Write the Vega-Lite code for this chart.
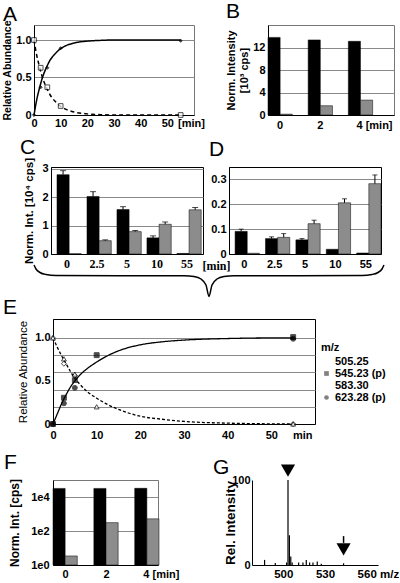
{
  "$schema": "https://vega.github.io/schema/vega-lite/v6.json",
  "padding": {"left": 2, "top": 0, "right": 0, "bottom": 0},
  "background": "white",
  "config": {
    "font": "Liberation Sans",
    "view": {"stroke": null},
    "axis": {"domainColor": "black", "domainWidth": 1, "labelColor": "black", "labelFont": "Liberation Sans", "labelFontWeight": "bold", "labelFontSize": 11, "titleColor": "black", "titleFont": "Liberation Sans", "titleFontWeight": "bold", "titleFontSize": 11, "ticks": false, "gridColor": "#8a8a8a", "gridWidth": 1, "labelOverlap": false, "labelFlush": false, "labelBound": false, "labelPadding": 3, "titlePadding": 3},
    "axisY": {"labelOverlap": false, "labelFlush": false},
    "title": {"anchor": "start", "frame": "group", "fontSize": 21, "fontWeight": "normal", "font": "Liberation Sans", "color": "black"},
    "legend": {"labelFont": "Liberation Sans", "titleFont": "Liberation Sans", "labelColor": "black", "titleColor": "black"}
  },
  "resolve": {
    "scale": {"fill": "independent", "shape": "independent", "strokeDash": "independent", "size": "independent", "color": "independent"},
    "legend": {"fill": "independent", "shape": "independent", "strokeDash": "independent", "size": "independent", "color": "independent"}
  },
  "datasets": {
    "curveA": [
      {"t": 0, "v": 0, "k": "prod"}, {"t": 1, "v": 0.2, "k": "prod"}, {"t": 2, "v": 0.35, "k": "prod"}, {"t": 3, "v": 0.48, "k": "prod"}, {"t": 4, "v": 0.58, "k": "prod"}, {"t": 5, "v": 0.66, "k": "prod"}, {"t": 6, "v": 0.73, "k": "prod"}, {"t": 7, "v": 0.78, "k": "prod"}, {"t": 8, "v": 0.82, "k": "prod"}, {"t": 10, "v": 0.885, "k": "prod"}, {"t": 12, "v": 0.925, "k": "prod"}, {"t": 15, "v": 0.96, "k": "prod"}, {"t": 20, "v": 0.985, "k": "prod"}, {"t": 25, "v": 0.995, "k": "prod"}, {"t": 30, "v": 1.0, "k": "prod"}, {"t": 40, "v": 1.0, "k": "prod"}, {"t": 55, "v": 1.0, "k": "prod"},
      {"t": 0, "v": 1, "k": "sub"}, {"t": 1, "v": 0.8, "k": "sub"}, {"t": 2, "v": 0.65, "k": "sub"}, {"t": 3, "v": 0.52, "k": "sub"}, {"t": 4, "v": 0.42, "k": "sub"}, {"t": 5, "v": 0.34, "k": "sub"}, {"t": 6, "v": 0.27, "k": "sub"}, {"t": 7, "v": 0.22, "k": "sub"}, {"t": 8, "v": 0.18, "k": "sub"}, {"t": 10, "v": 0.115, "k": "sub"}, {"t": 12, "v": 0.075, "k": "sub"}, {"t": 15, "v": 0.04, "k": "sub"}, {"t": 20, "v": 0.015, "k": "sub"}, {"t": 25, "v": 0.005, "k": "sub"}, {"t": 30, "v": 0, "k": "sub"}, {"t": 40, "v": 0, "k": "sub"}, {"t": 55, "v": 0, "k": "sub"}
    ],
    "ptsA": [
      {"t": 0, "v": 0, "k": "prod"}, {"t": 2.5, "v": 0.37, "k": "prod"}, {"t": 5, "v": 0.63, "k": "prod"}, {"t": 10, "v": 0.89, "k": "prod"}, {"t": 55, "v": 0.99, "k": "prod"},
      {"t": 0, "v": 1.0, "k": "sub"}, {"t": 2.5, "v": 0.63, "k": "sub"}, {"t": 5, "v": 0.37, "k": "sub"}, {"t": 10, "v": 0.12, "k": "sub"}, {"t": 55, "v": 0.0, "k": "sub"}
    ],
    "barB": [
      {"m": 0, "sB": "p", "v": 13.8}, {"m": 0, "sB": "q", "v": 0.15},
      {"m": 2, "sB": "p", "v": 13.35}, {"m": 2, "sB": "q", "v": 1.65},
      {"m": 4, "sB": "p", "v": 13.1}, {"m": 4, "sB": "q", "v": 2.65}
    ],
    "barC": [
      {"m": "0", "sC": "p", "v": 2.8, "cap": 2.94}, {"m": "0", "sC": "q", "v": 0.01, "cap": null},
      {"m": "2.5", "sC": "p", "v": 2.03, "cap": 2.2}, {"m": "2.5", "sC": "q", "v": 0.47, "cap": 0.5},
      {"m": "5", "sC": "p", "v": 1.57, "cap": 1.67}, {"m": "5", "sC": "q", "v": 0.79, "cap": 0.83},
      {"m": "10", "sC": "p", "v": 0.57, "cap": 0.64}, {"m": "10", "sC": "q", "v": 1.05, "cap": 1.13},
      {"m": "55", "sC": "p", "v": 0.02, "cap": null}, {"m": "55", "sC": "q", "v": 1.56, "cap": 1.64}
    ],
    "barD": [
      {"m": "0", "sD": "p", "v": 0.091, "cap": 0.1}, {"m": "0", "sD": "q", "v": 0.003, "cap": null},
      {"m": "2.5", "sD": "p", "v": 0.062, "cap": 0.069}, {"m": "2.5", "sD": "q", "v": 0.067, "cap": 0.082},
      {"m": "5", "sD": "p", "v": 0.057, "cap": 0.062}, {"m": "5", "sD": "q", "v": 0.122, "cap": 0.136},
      {"m": "10", "sD": "p", "v": 0.019, "cap": null}, {"m": "10", "sD": "q", "v": 0.206, "cap": 0.222},
      {"m": "55", "sD": "p", "v": 0.004, "cap": null}, {"m": "55", "sD": "q", "v": 0.283, "cap": 0.318}
    ],
    "brace": [
      {"p": 0, "d": 0}, {"p": 2, "d": 4}, {"p": 6, "d": 7.5}, {"p": 12, "d": 9.5}, {"p": 22, "d": 10.5}, {"p": 150, "d": 10.8}, {"p": 160, "d": 11.6}, {"p": 167, "d": 14}, {"p": 172, "d": 20}, {"p": 175, "d": 31.5},
      {"p": 178, "d": 20}, {"p": 183, "d": 14}, {"p": 190, "d": 11.6}, {"p": 200, "d": 10.8}, {"p": 328, "d": 10.5}, {"p": 338, "d": 9.5}, {"p": 344, "d": 7.5}, {"p": 348, "d": 4}, {"p": 350, "d": 0}
    ],
    "curveE": [
      {"t": 0, "v": 0, "k": "rise"}, {"t": 1, "v": 0.12, "k": "rise"}, {"t": 2, "v": 0.24, "k": "rise"}, {"t": 3, "v": 0.34, "k": "rise"}, {"t": 4, "v": 0.43, "k": "rise"}, {"t": 5, "v": 0.5, "k": "rise"}, {"t": 6, "v": 0.56, "k": "rise"}, {"t": 8, "v": 0.65, "k": "rise"}, {"t": 10, "v": 0.72, "k": "rise"}, {"t": 12, "v": 0.78, "k": "rise"}, {"t": 15, "v": 0.85, "k": "rise"}, {"t": 20, "v": 0.92, "k": "rise"}, {"t": 25, "v": 0.955, "k": "rise"}, {"t": 30, "v": 0.975, "k": "rise"}, {"t": 40, "v": 0.993, "k": "rise"}, {"t": 50, "v": 1.0, "k": "rise"}, {"t": 55, "v": 1.0, "k": "rise"},
      {"t": 0, "v": 1, "k": "fall"}, {"t": 1, "v": 0.89, "k": "fall"}, {"t": 2, "v": 0.79, "k": "fall"}, {"t": 3, "v": 0.7, "k": "fall"}, {"t": 4, "v": 0.61, "k": "fall"}, {"t": 5, "v": 0.53, "k": "fall"}, {"t": 6, "v": 0.47, "k": "fall"}, {"t": 8, "v": 0.37, "k": "fall"}, {"t": 10, "v": 0.3, "k": "fall"}, {"t": 12, "v": 0.24, "k": "fall"}, {"t": 15, "v": 0.17, "k": "fall"}, {"t": 20, "v": 0.09, "k": "fall"}, {"t": 25, "v": 0.055, "k": "fall"}, {"t": 30, "v": 0.03, "k": "fall"}, {"t": 40, "v": 0.01, "k": "fall"}, {"t": 55, "v": 0.0, "k": "fall"}
    ],
    "ptsE": [
      {"t": 0, "v": 1.0, "mz": "505.25"}, {"t": 2.5, "v": 0.7, "mz": "505.25"}, {"t": 5, "v": 0.56, "mz": "505.25"}, {"t": 55, "v": 0.0, "mz": "505.25"},
      {"t": 0, "v": 1.0, "mz": "583.30"}, {"t": 2.5, "v": 0.757, "mz": "583.30"}, {"t": 5, "v": 0.58, "mz": "583.30"}, {"t": 10, "v": 0.2, "mz": "583.30"}, {"t": 55, "v": 0.0, "mz": "583.30"},
      {"t": 0, "v": 0.0, "mz": "623.28 (p)"}, {"t": 2.5, "v": 0.24, "mz": "623.28 (p)"}, {"t": 5, "v": 0.42, "mz": "623.28 (p)"}, {"t": 55, "v": 0.99, "mz": "623.28 (p)"},
      {"t": 0, "v": 0.0, "mz": "545.23 (p)"}, {"t": 2.5, "v": 0.305, "mz": "545.23 (p)"}, {"t": 5, "v": 0.51, "mz": "545.23 (p)"}, {"t": 10, "v": 0.8, "mz": "545.23 (p)"}, {"t": 55, "v": 1.01, "mz": "545.23 (p)"}
    ],
    "barF": [
      {"m": 0, "sF": "p", "v": 32000}, {"m": 0, "sF": "q", "v": 3.4},
      {"m": 2, "sF": "p", "v": 32000}, {"m": 2, "sF": "q", "v": 310},
      {"m": 4, "sF": "p", "v": 32500}, {"m": 4, "sF": "q", "v": 520}
    ],
    "specG": [
      {"mz": 488.4, "i": 6}, {"mz": 496.1, "i": 2.5}, {"mz": 504.25, "i": 3}, {"mz": 505.25, "i": 100}, {"mz": 506.25, "i": 35}, {"mz": 507.25, "i": 10}, {"mz": 508.25, "i": 3},
      {"mz": 512.9, "i": 3}, {"mz": 516, "i": 3}, {"mz": 518.4, "i": 6}, {"mz": 520.8, "i": 3}, {"mz": 523.2, "i": 3}, {"mz": 526.3, "i": 4}, {"mz": 529.2, "i": 1.5}, {"mz": 545.23, "i": 2}
    ],
    "markG": [
      {"mz": 505.25, "pos": 111}, {"mz": 545.23, "pos": 18.5}
    ],
    "stemG": [
      {"mz": 545.23, "a": 26, "b": 34}
    ]
  },
  "vconcat": [
    {
      "hconcat": [
        {
          "width": 160, "height": 90,
          "title": {"text": "A", "dx": -31, "offset": -5},
          "view": {"stroke": "#777"},
          "encoding": {
            "x": {"field": "t", "type": "quantitative", "scale": {"domain": [0, 60], "nice": false},
              "axis": {"values": [0, 10, 20, 30, 40, 50, 60], "labelExpr": "datum.value == 60 ? '[min]' : datum.label", "labelOffset": {"condition": {"test": "datum.value == 60", "value": -3}, "value": 0}, "labelFlush": false, "labelOverlap": false, "title": null, "grid": false, "labelPadding": 2}},
            "y": {"field": "v", "type": "quantitative", "scale": {"domain": [0, 1.2], "nice": false},
              "axis": {"values": [0, 0.5, 1], "labelExpr": "datum.value == 0 ? '0' : format(datum.value, '.1f')", "labelOverlap": false, "labelFlush": false, "grid": true, "title": "Relative Abundance", "titleFontSize": 10.5}}
          },
          "layer": [
            {
              "data": {"name": "curveA"},
              "mark": {"type": "line", "color": "black", "strokeWidth": 1.5, "interpolate": "monotone"},
              "encoding": {
                "strokeDash": {"field": "k", "type": "nominal", "scale": {"domain": ["prod", "sub"], "range": [[1, 0], [4, 3]]}, "legend": null}
              }
            },
            {
              "data": {"name": "ptsA"},
              "mark": {"type": "point", "filled": true, "stroke": "black", "strokeWidth": 1},
              "encoding": {
                "shape": {"field": "k", "type": "nominal", "scale": {"domain": ["prod", "sub"], "range": ["diamond", "square"]}, "legend": null},
                "fill": {"field": "k", "type": "nominal", "scale": {"domain": ["prod", "sub"], "range": ["black", "white"]}, "legend": null},
                "size": {"field": "k", "type": "nominal", "scale": {"domain": ["prod", "sub"], "range": [10, 22]}, "legend": null}
              }
            }
          ]
        },
        {
          "width": 126, "height": 90,
          "title": {"text": "B", "dx": -42, "offset": 3},
          "view": {"stroke": "#777"},
          "data": {"name": "barB"},
          "mark": {"type": "bar", "stroke": "black", "strokeWidth": 0.5},
          "encoding": {
            "x": {"field": "m", "type": "ordinal", "scale": {"domain": [0, 2, 4], "paddingInner": 0.395, "paddingOuter": 0.266, "align": 0},
              "axis": {"title": null, "labelAngle": 0, "labelOverlap": false, "labelExpr": "datum.value == 4 ? '4 [min]' : datum.label", "labelAlign": {"condition": {"test": "datum.value == 4", "value": "left"}, "value": "center"}, "labelOffset": {"condition": {"test": "datum.value == 4", "value": -4}, "value": 0}, "labelPadding": 4}},
            "xOffset": {"field": "sB", "type": "nominal", "scale": {"domain": ["p", "q"]}},
            "y": {"field": "v", "type": "quantitative", "scale": {"domain": [0, 16], "nice": false},
              "axis": {"values": [0, 4, 8, 12], "labelOverlap": false, "grid": true, "title": ["Norm. Intensity", "[10³ cps]"], "titleFontSize": 11}},
            "color": {"field": "sB", "type": "nominal", "scale": {"domain": ["p", "q"], "range": ["#000000", "#8c8c8c"]}, "legend": null}
          }
        }
      ],
      "spacing": 74, "bounds": "flush"
    },
    {"width": 1, "height": 142, "data": {"values": []}, "mark": "point"},
    {
      "hconcat": [
        {"width": 17, "height": 1, "data": {"values": []}, "mark": "point"},
        {
          "hconcat": [
            {
              "width": 152, "height": 87,
              "title": {"text": "C", "frame": "bounds", "dx": -4, "offset": -1},
              "view": {"stroke": "black"},
              "data": {"name": "barC"},
              "encoding": {
                "x": {"field": "m", "type": "ordinal", "scale": {"domain": ["0", "2.5", "5", "10", "55"], "paddingInner": 0.33, "paddingOuter": 0.2},
                  "axis": {"title": "[min]", "titleX": 165, "titleY": 15, "titleAngle": 0, "titleAlign": "center", "titleBaseline": "alphabetic", "titleFont": "Liberation Serif", "titleFontSize": 12, "labelFont": "Liberation Serif", "labelFontSize": 12, "labelAngle": 0, "labelOverlap": false, "labelPadding": 4}},
                "xOffset": {"field": "sC", "type": "nominal", "scale": {"domain": ["p", "q"]}}
              },
              "layer": [
                {
                  "mark": {"type": "bar", "stroke": "black", "strokeWidth": 0.5},
                  "encoding": {
                    "y": {"field": "v", "type": "quantitative", "scale": {"domain": [0, 3.07], "nice": false},
                      "axis": {"values": [0, 1, 2, 3], "labelOverlap": false, "labelFlush": false, "grid": true, "title": "Norm. Int. [10⁴ cps]", "titleFontSize": 11.5, "titlePadding": 7}},
                    "color": {"field": "sC", "type": "nominal", "scale": {"domain": ["p", "q"], "range": ["#000000", "#8c8c8c"]}, "legend": null}
                  }
                },
                {
                  "transform": [{"filter": "isValid(datum.cap)"}],
                  "mark": {"type": "rule", "color": "black", "strokeWidth": 1},
                  "encoding": {
                    "y": {"field": "v", "type": "quantitative", "axis": {"values": [0, 1, 2, 3], "labelOverlap": false, "labelFlush": false, "grid": true, "title": "Norm. Int. [10⁴ cps]", "titleFontSize": 11.5, "titlePadding": 7}},
                    "y2": {"field": "cap"}
                  }
                },
                {
                  "transform": [{"filter": "isValid(datum.cap)"}],
                  "mark": {"type": "tick", "color": "black", "thickness": 1, "size": 6, "orient": "horizontal"},
                  "encoding": {
                    "y": {"field": "cap", "type": "quantitative", "axis": {"values": [0, 1, 2, 3], "labelOverlap": false, "labelFlush": false, "grid": true, "title": "Norm. Int. [10⁴ cps]", "titleFontSize": 11.5, "titlePadding": 7}}
                  }
                }
              ]
            },
            {
              "width": 152, "height": 87,
              "title": {"text": "D", "dx": -20, "offset": 7},
              "view": {"stroke": "black"},
              "data": {"name": "barD"},
              "encoding": {
                "x": {"field": "m", "type": "ordinal", "scale": {"domain": ["0", "2.5", "5", "10", "55"], "paddingInner": 0.4, "paddingOuter": 0.2},
                  "axis": {"title": null, "labelAngle": 0, "labelOverlap": false, "labelPadding": 4}},
                "xOffset": {"field": "sD", "type": "nominal", "scale": {"domain": ["p", "q"]}}
              },
              "layer": [
                {
                  "mark": {"type": "bar", "stroke": "black", "strokeWidth": 0.5},
                  "encoding": {
                    "y": {"field": "v", "type": "quantitative", "scale": {"domain": [0, 0.35], "nice": false},
                      "axis": {"values": [0, 0.1, 0.2, 0.3], "labelExpr": "datum.value == 0 ? '0' : format(datum.value, '.1f')", "labelOverlap": false, "labelFlush": false, "grid": true, "title": null}},
                    "color": {"field": "sD", "type": "nominal", "scale": {"domain": ["p", "q"], "range": ["#000000", "#8c8c8c"]}, "legend": null}
                  }
                },
                {
                  "transform": [{"filter": "isValid(datum.cap)"}],
                  "mark": {"type": "rule", "color": "black", "strokeWidth": 1},
                  "encoding": {
                    "y": {"field": "v", "type": "quantitative", "axis": {"values": [0, 0.1, 0.2, 0.3], "labelExpr": "datum.value == 0 ? '0' : format(datum.value, '.1f')", "labelOverlap": false, "labelFlush": false, "grid": true, "title": null}},
                    "y2": {"field": "cap"}
                  }
                },
                {
                  "transform": [{"filter": "isValid(datum.cap)"}],
                  "mark": {"type": "tick", "color": "black", "thickness": 1, "size": 5, "orient": "horizontal"},
                  "encoding": {
                    "y": {"field": "cap", "type": "quantitative", "axis": {"values": [0, 0.1, 0.2, 0.3], "labelExpr": "datum.value == 0 ? '0' : format(datum.value, '.1f')", "labelOverlap": false, "labelFlush": false, "grid": true, "title": null}}
                  }
                }
              ]
            }
          ],
          "spacing": 26, "bounds": "flush"
        }
      ],
      "spacing": 0, "bounds": "flush"
    },
    {"width": 1, "height": 98, "data": {"values": []}, "mark": "point"},
    {
      "width": 350, "height": 32,
      "data": {"name": "brace"},
      "mark": {"type": "line", "interpolate": "monotone", "color": "black", "strokeWidth": 1.5},
      "encoding": {
        "x": {"field": "p", "type": "quantitative", "scale": {"domain": [0, 350], "nice": false}, "axis": null},
        "y": {"field": "d", "type": "quantitative", "scale": {"domain": [0, 32], "reverse": true, "nice": false}, "axis": null}
      }
    },
    {"width": 1, "height": 22, "data": {"values": []}, "mark": "point"},
    {
      "hconcat": [
        {"width": 19, "height": 1, "data": {"values": []}, "mark": "point"},
        {
          "width": 262, "height": 105,
          "title": {"text": "E", "dx": -50, "offset": 1},
          "view": {"stroke": "black"},
          "encoding": {
            "x": {"field": "t", "type": "quantitative", "scale": {"domain": [0, 60], "nice": false},
              "axis": {"values": [0, 10, 20, 30, 40, 50, 60], "labelExpr": "datum.value == 60 ? 'min' : datum.label", "labelAlign": {"condition": {"test": "datum.value == 60", "value": "right"}, "value": "center"}, "labelOffset": {"condition": {"test": "datum.value == 60", "value": -3}, "value": 0}, "labelFlush": false, "labelOverlap": false, "title": null, "grid": false, "labelPadding": 5}},
            "y": {"field": "v", "type": "quantitative", "scale": {"domain": [0, 1.22], "nice": false},
              "axis": {"values": [0, 0.2, 0.4, 0.5, 0.6, 0.8, 1], "labelExpr": "datum.value == 0 ? '0' : datum.value == 0.5 ? '0.5' : datum.value == 1 ? '1.0' : ''", "labelOverlap": false, "labelFlush": false, "gridOpacity": {"condition": {"test": "datum.value == 0.5", "value": 0}, "value": 1}, "grid": true, "title": "Relative Abundance", "titleFontWeight": "normal", "titleFontSize": 11.5, "titlePadding": 6}}
          },
          "layer": [
            {
              "data": {"name": "curveE"},
              "mark": {"type": "line", "color": "black", "strokeWidth": 1.3, "interpolate": "monotone"},
              "encoding": {
                "strokeDash": {"field": "k", "type": "nominal", "scale": {"domain": ["rise", "fall"], "range": [[1, 0], [3, 2]]}, "legend": null}
              }
            },
            {
              "data": {"name": "ptsE"},
              "mark": {"type": "point", "filled": true, "stroke": "black", "strokeWidth": 1, "size": 24},
              "encoding": {
                "shape": {"field": "mz", "type": "nominal", "scale": {"domain": ["505.25", "545.23 (p)", "583.30", "623.28 (p)"], "range": ["diamond", "square", "triangle-up", "circle"]},
                  "legend": {"title": "m/z", "orient": "none", "legendX": 287, "legendY": 23, "labelFontSize": 11, "labelFontWeight": "bold", "titleFontSize": 11, "titleFontWeight": "bold", "rowPadding": 0, "symbolSize": 22, "symbolStrokeColor": "black", "symbolStrokeWidth": 1, "labelOffset": 3, "titlePadding": 3}},
                "fill": {"field": "mz", "type": "nominal", "scale": {"domain": ["505.25", "545.23 (p)", "583.30", "623.28 (p)"], "range": ["white", "black", "white", "black"]},
                  "legend": {"title": "m/z", "orient": "none", "legendX": 287, "legendY": 23, "labelFontSize": 11, "labelFontWeight": "bold", "titleFontSize": 11, "titleFontWeight": "bold", "rowPadding": 0, "symbolSize": 22, "symbolStrokeColor": "black", "symbolStrokeWidth": 1, "labelOffset": 3, "titlePadding": 3}}
              }
            }
          ]
        }
      ],
      "spacing": 0, "bounds": "flush"
    },
    {"width": 1, "height": 161, "data": {"values": []}, "mark": "point"},
    {
      "hconcat": [
        {"width": 19, "height": 1, "data": {"values": []}, "mark": "point"},
        {
          "hconcat": [
            {
              "width": 105, "height": 85,
              "title": {"text": "F", "dx": -49, "offset": 5},
              "view": {"stroke": "#777"},
              "data": {"name": "barF"},
              "mark": {"type": "bar", "stroke": "black", "strokeWidth": 0.5},
              "encoding": {
                "x": {"field": "m", "type": "ordinal", "scale": {"domain": [0, 2, 4], "paddingInner": 0.43, "paddingOuter": 0},
                  "axis": {"title": null, "labelAngle": 0, "labelOverlap": false, "labelExpr": "datum.value == 4 ? '4  [min]' : datum.label", "labelAlign": {"condition": {"test": "datum.value == 4", "value": "left"}, "value": "center"}, "labelOffset": {"condition": {"test": "datum.value == 4", "value": -3}, "value": 1}, "labelPadding": 3}},
                "xOffset": {"field": "sF", "type": "nominal", "scale": {"domain": ["p", "q"]}},
                "y": {"field": "v", "type": "quantitative", "scale": {"type": "log", "domain": [1, 100000], "nice": false},
                  "axis": {"values": [1, 100, 10000], "labelOverlap": false, "labelExpr": "datum.value == 1 ? '1e0' : datum.value == 100 ? '1e2' : '1e4'", "grid": true, "title": "Norm. Int. [cps]", "titleFontSize": 12, "labelPadding": 4, "titlePadding": 9}},
                "y2": {"datum": 1},
                "color": {"field": "sF", "type": "nominal", "scale": {"domain": ["p", "q"], "range": ["#000000", "#8c8c8c"]}, "legend": null}
              }
            },
            {
              "width": 126, "height": 85,
              "title": {"text": "G", "dx": -39, "offset": -13},
              "layer": [
                {
                  "data": {"name": "specG"},
                  "mark": {"type": "rule", "color": "black", "strokeWidth": 1.2},
                  "encoding": {
                    "x": {"field": "mz", "type": "quantitative", "scale": {"domain": [479.35, 570], "nice": false, "zero": false},
                      "axis": {"values": [500, 530, 560], "labelExpr": "datum.value == 560 ? '560 m/z' : datum.label", "labelAlign": "left", "labelOffset": -7, "labelFontSize": 11.5, "labelOverlap": false, "title": null, "grid": false, "labelFlush": false, "labelPadding": 3}},
                    "y": {"field": "i", "type": "quantitative", "scale": {"domain": [0, 100], "nice": false},
                      "axis": {"values": [0, 100], "labelOverlap": false, "title": "Rel. Intensity", "titleFontSize": 13.5, "grid": false, "labelPadding": 2, "titlePadding": -6}},
                    "y2": {"datum": 0}
                  }
                },
                {
                  "data": {"name": "stemG"},
                  "mark": {"type": "rule", "color": "black", "strokeWidth": 1.5},
                  "encoding": {
                    "x": {"field": "mz", "type": "quantitative"},
                    "y": {"field": "a", "type": "quantitative"},
                    "y2": {"field": "b"}
                  }
                },
                {
                  "data": {"name": "markG"},
                  "mark": {"type": "point", "shape": "triangle-down", "filled": true, "color": "black", "size": 200, "opacity": 1},
                  "encoding": {
                    "x": {"field": "mz", "type": "quantitative"},
                    "y": {"field": "pos", "type": "quantitative"}
                  }
                }
              ]
            }
          ],
          "spacing": 94, "bounds": "flush"
        }
      ],
      "spacing": 0, "bounds": "flush"
    }
  ],
  "spacing": 0,
  "bounds": "flush"
}
